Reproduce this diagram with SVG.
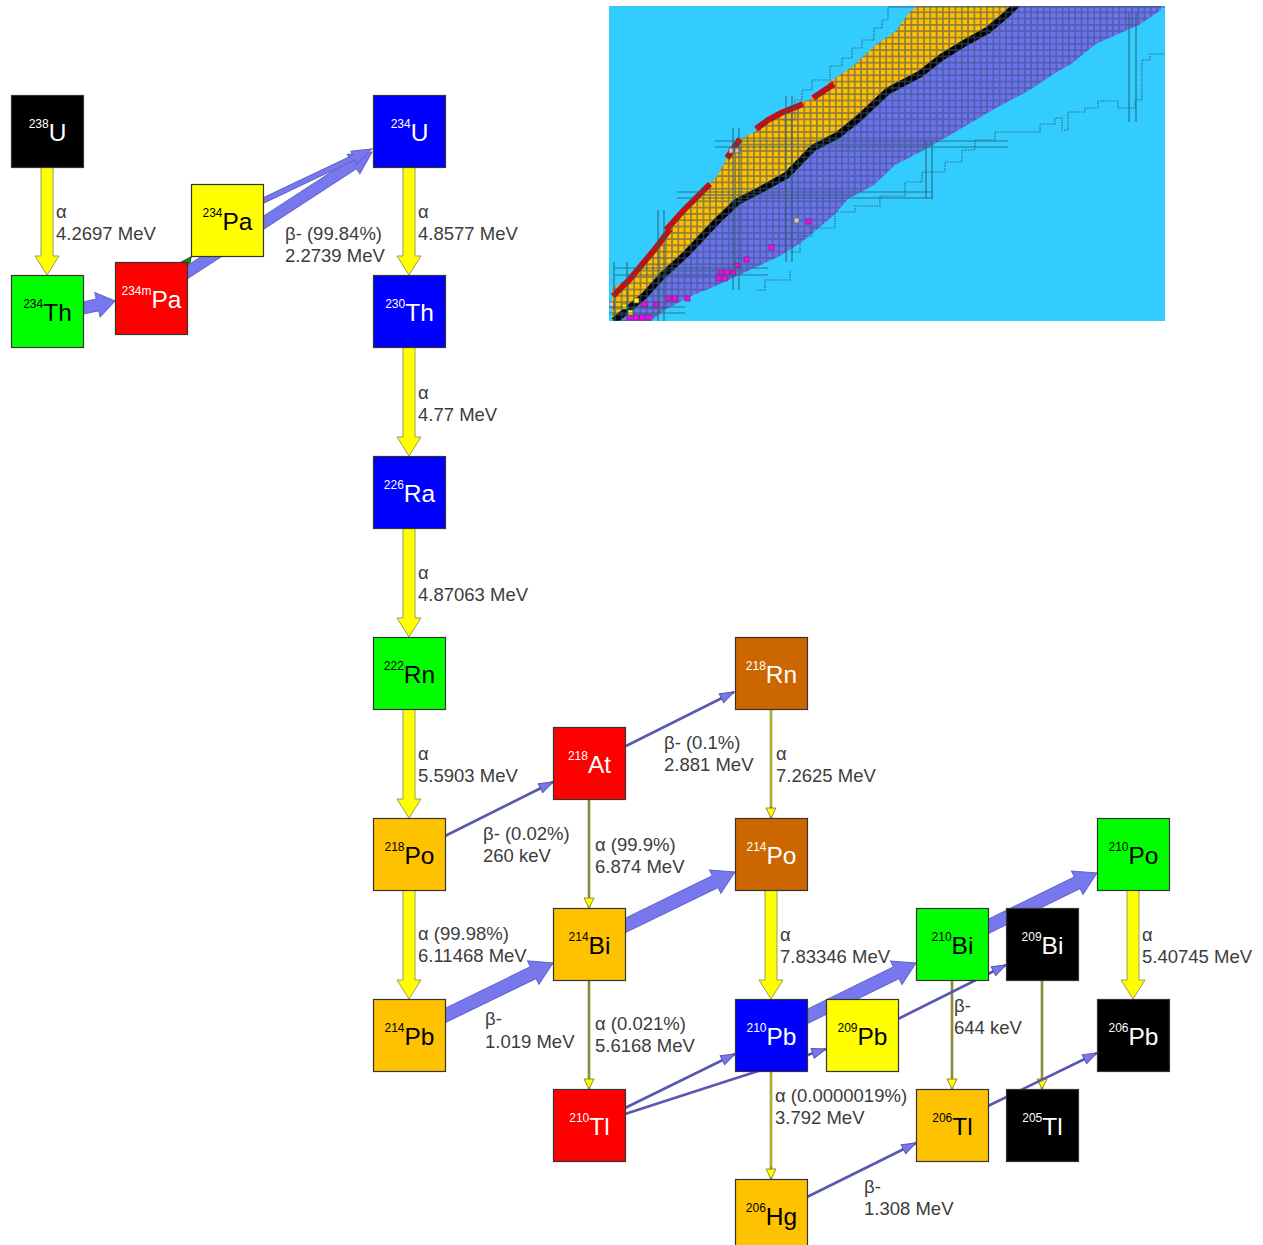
<svg xmlns="http://www.w3.org/2000/svg" width="1263" height="1245" viewBox="0 0 1263 1245">
<style>
  .box{stroke:#333;stroke-width:1.2}
  .nt{font-family:"Liberation Sans",Arial,sans-serif;text-anchor:middle}
  .w{fill:#fff}
  .b{fill:#000}
  .sup{font-size:12px}
  .sym{font-size:24.5px}
  .lbl{font-family:"Liberation Sans",Arial,sans-serif;font-size:18.5px;fill:#3c3c3c}
  .ya{fill:#ffff00;stroke:#9a9a60;stroke-width:1}
  .ba{fill:#7777ee;stroke:#6262c8;stroke-width:1}
  .thinA{stroke:#8a8a3c;stroke-width:2.6;fill:none}
  .thinA2{stroke:#cccc20;stroke-width:1.2;fill:none}
  .thinB{stroke:#5858b0;stroke-width:2.6;fill:none}
  .mg{stroke:#2d5d70;stroke-width:1.2;fill:none;opacity:0.8}
  .drip{stroke:#2d6070;stroke-width:1.2;fill:none;stroke-dasharray:1.5 1;opacity:0.8}
</style>
<defs>
  <marker id="mBeta" markerUnits="userSpaceOnUse" markerWidth="16" markerHeight="12" refX="15" refY="6" orient="auto" overflow="visible">
    <path d="M1,1 L15,6 L1,11 Z" fill="#7777ee" stroke="#5555aa" stroke-width="1"/>
  </marker>
  <marker id="mAlpha" markerUnits="userSpaceOnUse" markerWidth="12" markerHeight="12" refX="11" refY="6" orient="auto" overflow="visible">
    <path d="M1,1 L11,6 L1,11 Z" fill="#ffff00" stroke="#8a8a3c" stroke-width="1"/>
  </marker>
  <marker id="mIT" markerUnits="userSpaceOnUse" markerWidth="12" markerHeight="12" refX="11" refY="6" orient="auto" overflow="visible">
    <path d="M1,1 L11,6 L1,11 Z" fill="#1f8a1f" stroke="#116611" stroke-width="1"/>
  </marker>
  <pattern id="pPurple" x="609" y="6" width="6.3" height="6.3" patternUnits="userSpaceOnUse">
    <rect width="6.3" height="6.3" fill="#4a62a8"/><rect x="0.8" y="0.8" width="4.7" height="4.7" fill="#7070f0"/>
  </pattern>
  <pattern id="pOrange" x="609" y="6" width="6.3" height="6.3" patternUnits="userSpaceOnUse">
    <rect width="6.3" height="6.3" fill="#8a7a40"/><rect x="0.8" y="0.8" width="4.7" height="4.7" fill="#ffc000"/>
  </pattern>
  <pattern id="pRed" x="609" y="6" width="6.3" height="6.3" patternUnits="userSpaceOnUse">
    <rect width="6.3" height="6.3" fill="#703030"/><rect x="0.8" y="0.8" width="4.7" height="4.7" fill="#ee0000"/>
  </pattern>
  <pattern id="pBlack" x="609" y="6" width="6.3" height="6.3" patternUnits="userSpaceOnUse">
    <rect width="6.3" height="6.3" fill="#223344"/><rect x="0.8" y="0.8" width="4.7" height="4.7" fill="#000"/>
  </pattern>
  <clipPath id="insetClip"><rect x="609" y="6" width="556" height="315"/></clipPath>
</defs>

<!-- Inset: chart of nuclides -->
<g id="inset" clip-path="url(#insetClip)">
  <rect x="609" y="6" width="556" height="315" fill="#33ccff"/>
  <polygon fill="url(#pPurple)" points="612,321 612,290 630,276 655,246 680,212 716,178 737,141 762,128 780,111 813,98 831,81 852,67 877,44 895,32 909,13 917,6 1161,6 1161,10 1139,25 1118,34 1096,44 1071,64 1057,72 1028,91 996,108 974,121 945,138 920,152 895,165 874,185 848,199 834,215 802,242 780,256 752,269 716,286 691,296 665,310 651,321"/>
  <polygon fill="url(#pOrange)" points="612,321 612,290 630,276 655,246 680,212 716,178 737,141 762,128 780,111 813,98 831,81 852,67 877,44 895,32 909,13 917,6 1017,6 1006,15 988,30 963,44 942,57 920,74 888,91 859,118 838,135 813,148 787,175 762,189 737,202 716,222 687,253 662,276 644,296 619,316 616,321"/>
  <polyline fill="none" stroke="url(#pBlack)" stroke-width="7" points="614,321 644,296 662,276 687,253 716,222 737,202 762,189 787,175 813,148 838,135 859,118 888,91 920,74 942,57 963,44 988,30 1006,15 1017,4"/>
  <g fill="none" stroke="url(#pRed)" stroke-width="6">
    <polyline points="613,296 630,279 655,249 670,229"/>
    <polyline points="666,230 683,211 710,184"/>
    <polyline points="727,158 740,139"/>
    <polyline points="756,129 768,120 781,113 803,104"/>
    <polyline points="813,98 834,84"/>
  </g>
  <g fill="#ff00ff" stroke="#7a2a7a" stroke-width="0.8">
    <rect x="627" y="315" width="5" height="5"/><rect x="633.3" y="315" width="5" height="5"/><rect x="639.6" y="315" width="5" height="5"/><rect x="645.9" y="315" width="5" height="5"/>
    <rect x="666" y="296" width="5" height="5"/><rect x="672.3" y="296" width="5" height="5"/><rect x="685" y="296" width="5" height="5"/>
    <rect x="642" y="302" width="5" height="5"/><rect x="654" y="302" width="5" height="5"/>
    <rect x="718" y="270" width="5" height="5"/><rect x="724.3" y="270" width="5" height="5"/><rect x="730.6" y="270" width="5" height="5"/><rect x="716" y="276" width="5" height="5"/><rect x="722.3" y="276" width="5" height="5"/>
    <rect x="735" y="263" width="5" height="5"/><rect x="744" y="257" width="5" height="5"/><rect x="769" y="245" width="5" height="5"/><rect x="806" y="219" width="5" height="5"/>
  </g>
  <g fill="#ffff00" stroke="#555" stroke-width="0.8">
    <rect x="622" y="304" width="5" height="5"/><rect x="634" y="298" width="5" height="5"/><rect x="628" y="310" width="5" height="5"/>
  </g>
  <g fill="#c8c8c8" stroke="#666" stroke-width="0.8">
    <rect x="729" y="148" width="5" height="5"/><rect x="735" y="148" width="5" height="5"/><rect x="794" y="218" width="5" height="5"/><rect x="609" y="302" width="5" height="5"/>
  </g>
  <g class="mg">
    <line x1="715" y1="141" x2="1008" y2="141"/><line x1="715" y1="147" x2="1008" y2="147"/>
    <line x1="677" y1="192" x2="933" y2="192"/><line x1="677" y1="198" x2="933" y2="198"/>
    <line x1="926" y1="141" x2="926" y2="199"/><line x1="932" y1="141" x2="932" y2="199"/>
    <line x1="786" y1="96" x2="786" y2="262"/><line x1="792" y1="96" x2="792" y2="262"/>
    <line x1="733" y1="128" x2="733" y2="290"/><line x1="739" y1="128" x2="739" y2="290"/>
    <line x1="615" y1="268" x2="768" y2="268"/><line x1="615" y1="275" x2="768" y2="275"/>
    <line x1="658" y1="210" x2="658" y2="321"/><line x1="664" y1="210" x2="664" y2="321"/>
    <line x1="609" y1="307" x2="685" y2="307"/><line x1="609" y1="313" x2="685" y2="313"/>
    <line x1="614" y1="262" x2="614" y2="321"/><line x1="627" y1="262" x2="627" y2="321"/>
    <line x1="1129" y1="13" x2="1129" y2="122"/><line x1="1136" y1="13" x2="1136" y2="122"/>
    <line x1="888" y1="7" x2="1165" y2="7"/>
  </g>
  <polyline class="drip" points="790,252 800,252 800,236 812,236 812,228 835,228 835,212 855,212 855,206 880,206 880,196 905,196 905,182 922,182 922,172 945,172 945,162 962,162 962,150 975,150 975,140 995,140 995,132 1040,132 1040,124 1055,124 1055,118 1062,118 1062,130 1068,130 1068,112 1085,112 1085,108 1098,108 1098,101 1118,101 1118,108 1135,108 1135,100 1142,100 1142,60 1150,60 1150,54 1165,54"/>
  <polyline class="drip" points="782,120 795,120 795,100 802,100 802,90 812,90 812,80 830,80 830,66 842,66 842,58 852,58 852,48 862,48 862,40 874,40 874,28 882,28 882,20 888,20 888,8"/>
  <polyline class="drip" points="757,290 765,290 765,280 790,280 790,270"/>
</g>

<!-- Connectors -->
<g id="connectors">
  <!-- thick alpha -->
  <path class="ya" d="M41,167 V256 H35 L47,275 L59,256 H53 V167 Z"/>
  <path class="ya" d="M403,167 V256 H397 L409,275 L421,256 H415 V167 Z"/>
  <path class="ya" d="M403,347 V437 H397 L409,456 L421,437 H415 V347 Z"/>
  <path class="ya" d="M403,528 V618 H397 L409,637 L421,618 H415 V528 Z"/>
  <path class="ya" d="M403,709 V799 H397 L409,818 L421,799 H415 V709 Z"/>
  <path class="ya" d="M403,890 V980 H397 L409,999 L421,980 H415 V890 Z"/>
  <path class="ya" d="M765,890 V980 H759 L771,999 L783,980 H777 V890 Z"/>
  <path class="ya" d="M1127,890 V980 H1121 L1133,999 L1145,980 H1139 V890 Z"/>

  <!-- thin alpha -->
  <line class="thinA" x1="589" y1="799" x2="589" y2="908" marker-end="url(#mAlpha)"/>
  <line class="thinA" x1="771" y1="709" x2="771" y2="818" marker-end="url(#mAlpha)"/>
  <line class="thinA2" x1="771" y1="709" x2="771" y2="806"/>
  <line class="thinA" x1="589" y1="980" x2="589" y2="1089" marker-end="url(#mAlpha)"/>
  <line class="thinA" x1="771" y1="1071" x2="771" y2="1179" marker-end="url(#mAlpha)"/>
  <line class="thinA2" x1="771" y1="1071" x2="771" y2="1167"/>
  <line class="thinA" x1="952" y1="980" x2="952" y2="1089" marker-end="url(#mAlpha)"/>
  <line class="thinA" x1="1042" y1="980" x2="1042" y2="1089" marker-end="url(#mAlpha)"/>

  <!-- isomeric transition -->
  <line x1="160" y1="300" x2="191" y2="257" stroke="#1f8a1f" stroke-width="2" marker-end="url(#mIT)"/>

  <!-- thick beta -->
  <path class="ba" transform="translate(78 309) rotate(-12.2)" d="M0,-6 L19.9,-6 L19.9,-12.5 L37.9,0 L19.9,12.5 L19.9,6 L0,6 Z"/>
  <path class="ba" transform="translate(180 277) rotate(-33.06)" d="M0,-5.5 L207.1,-5.5 L207.1,-11.5 L229.1,0 L207.1,11.5 L207.1,5.5 L0,5.5 Z"/>
  <path class="ba" transform="translate(258 203) rotate(-25.35)" d="M0,-2.5 L106.1,-2.5 L106.1,-7 L126.1,0 L106.1,7 L106.1,2.5 L0,2.5 Z"/>
  <path class="ba" transform="translate(440 1018) rotate(-25.95)" d="M0,-6.5 L103.7,-6.5 L103.7,-13 L125.7,0 L103.7,13 L103.7,6.5 L0,6.5 Z"/>
  <path class="ba" transform="translate(620 928) rotate(-25.96)" d="M0,-6.5 L105.9,-6.5 L105.9,-13 L127.9,0 L105.9,13 L105.9,6.5 L0,6.5 Z"/>
  <path class="ba" transform="translate(802 1019) rotate(-26.16)" d="M0,-6.5 L105,-6.5 L105,-13 L127,0 L105,13 L105,6.5 L0,6.5 Z"/>
  <path class="ba" transform="translate(983 929) rotate(-26.16)" d="M0,-6.5 L105,-6.5 L105,-13 L127,0 L105,13 L105,6.5 L0,6.5 Z"/>

  <!-- thin beta -->
  <line class="thinB" x1="445" y1="836" x2="553" y2="782" marker-end="url(#mBeta)"/>
  <line class="thinB" x1="626" y1="746" x2="734" y2="692" marker-end="url(#mBeta)"/>
  <line class="thinB" x1="625" y1="1108" x2="735" y2="1054" marker-end="url(#mBeta)"/>
  <line class="thinB" x1="625" y1="1114" x2="826" y2="1049" marker-end="url(#mBeta)"/>
  <line class="thinB" x1="898" y1="1019" x2="1006" y2="965" marker-end="url(#mBeta)"/>
  <line class="thinB" x1="807" y1="1197" x2="916" y2="1143" marker-end="url(#mBeta)"/>
  <line class="thinB" x1="988" y1="1106" x2="1097" y2="1053" marker-end="url(#mBeta)"/>
</g>

<!-- Labels -->
<g id="labels" class="lbl">
  <text x="56" y="218">α</text><text x="56" y="240">4.2697 MeV</text>
  <text x="285" y="240">β- (99.84%)</text><text x="285" y="262">2.2739 MeV</text>
  <text x="418" y="218">α</text><text x="418" y="240">4.8577 MeV</text>
  <text x="418" y="399">α</text><text x="418" y="421">4.77 MeV</text>
  <text x="418" y="579">α</text><text x="418" y="601">4.87063 MeV</text>
  <text x="418" y="760">α</text><text x="418" y="782">5.5903 MeV</text>
  <text x="418" y="940">α (99.98%)</text><text x="418" y="962">6.11468 MeV</text>
  <text x="483" y="840">β- (0.02%)</text><text x="483" y="862">260 keV</text>
  <text x="595" y="851">α (99.9%)</text><text x="595" y="873">6.874 MeV</text>
  <text x="664" y="749">β- (0.1%)</text><text x="664" y="771">2.881 MeV</text>
  <text x="776" y="760">α</text><text x="776" y="782">7.2625 MeV</text>
  <text x="485" y="1025">β-</text><text x="485" y="1048">1.019 MeV</text>
  <text x="595" y="1030">α (0.021%)</text><text x="595" y="1052">5.6168 MeV</text>
  <text x="780" y="941">α</text><text x="780" y="963">7.83346 MeV</text>
  <text x="954" y="1012">β-</text><text x="954" y="1034">644 keV</text>
  <text x="1142" y="941">α</text><text x="1142" y="963">5.40745 MeV</text>
  <text x="775" y="1102">α (0.0000019%)</text><text x="775" y="1124">3.792 MeV</text>
  <text x="864" y="1193">β-</text><text x="864" y="1215">1.308 MeV</text>
</g>

<!-- Nodes -->
<g id="n-U238"><rect class="box" x="11.5" y="95.5" width="72" height="72" fill="#000000"/><text class="nt w" x="47.5" y="141"><tspan class="sup" dy="-13">238</tspan><tspan class="sym" dy="13">U</tspan></text></g>
<g id="n-Th234"><rect class="box" x="11.5" y="275.5" width="72" height="72" fill="#00ff00"/><text class="nt b" x="47.5" y="321"><tspan class="sup" dy="-13">234</tspan><tspan class="sym" dy="13">Th</tspan></text></g>
<g id="n-Pa234m"><rect class="box" x="115.5" y="262.5" width="72" height="72" fill="#ff0000"/><text class="nt w" x="151.5" y="308"><tspan class="sup" dy="-13">234m</tspan><tspan class="sym" dy="13">Pa</tspan></text></g>
<g id="n-Pa234"><rect class="box" x="191.5" y="184.5" width="72" height="72" fill="#ffff00"/><text class="nt b" x="227.5" y="230"><tspan class="sup" dy="-13">234</tspan><tspan class="sym" dy="13">Pa</tspan></text></g>
<g id="n-U234"><rect class="box" x="373.5" y="95.5" width="72" height="72" fill="#0000ff"/><text class="nt w" x="409.5" y="141"><tspan class="sup" dy="-13">234</tspan><tspan class="sym" dy="13">U</tspan></text></g>
<g id="n-Th230"><rect class="box" x="373.5" y="275.5" width="72" height="72" fill="#0000ff"/><text class="nt w" x="409.5" y="321"><tspan class="sup" dy="-13">230</tspan><tspan class="sym" dy="13">Th</tspan></text></g>
<g id="n-Ra226"><rect class="box" x="373.5" y="456.5" width="72" height="72" fill="#0000ff"/><text class="nt w" x="409.5" y="502"><tspan class="sup" dy="-13">226</tspan><tspan class="sym" dy="13">Ra</tspan></text></g>
<g id="n-Rn222"><rect class="box" x="373.5" y="637.5" width="72" height="72" fill="#00ff00"/><text class="nt b" x="409.5" y="683"><tspan class="sup" dy="-13">222</tspan><tspan class="sym" dy="13">Rn</tspan></text></g>
<g id="n-Po218"><rect class="box" x="373.5" y="818.5" width="72" height="72" fill="#ffc200"/><text class="nt b" x="409.5" y="864"><tspan class="sup" dy="-13">218</tspan><tspan class="sym" dy="13">Po</tspan></text></g>
<g id="n-Pb214"><rect class="box" x="373.5" y="999.5" width="72" height="72" fill="#ffc200"/><text class="nt b" x="409.5" y="1045"><tspan class="sup" dy="-13">214</tspan><tspan class="sym" dy="13">Pb</tspan></text></g>
<g id="n-At218"><rect class="box" x="553.5" y="727.5" width="72" height="72" fill="#ff0000"/><text class="nt w" x="589.5" y="773"><tspan class="sup" dy="-13">218</tspan><tspan class="sym" dy="13">At</tspan></text></g>
<g id="n-Bi214"><rect class="box" x="553.5" y="908.5" width="72" height="72" fill="#ffc200"/><text class="nt b" x="589.5" y="954"><tspan class="sup" dy="-13">214</tspan><tspan class="sym" dy="13">Bi</tspan></text></g>
<g id="n-Tl210"><rect class="box" x="553.5" y="1089.5" width="72" height="72" fill="#ff0000"/><text class="nt w" x="589.5" y="1135"><tspan class="sup" dy="-13">210</tspan><tspan class="sym" dy="13">Tl</tspan></text></g>
<g id="n-Rn218"><rect class="box" x="735.5" y="637.5" width="72" height="72" fill="#cc6600"/><text class="nt w" x="771.5" y="683"><tspan class="sup" dy="-13">218</tspan><tspan class="sym" dy="13">Rn</tspan></text></g>
<g id="n-Po214"><rect class="box" x="735.5" y="818.5" width="72" height="72" fill="#cc6600"/><text class="nt w" x="771.5" y="864"><tspan class="sup" dy="-13">214</tspan><tspan class="sym" dy="13">Po</tspan></text></g>
<g id="n-Pb210"><rect class="box" x="735.5" y="999.5" width="72" height="72" fill="#0000ff"/><text class="nt w" x="771.5" y="1045"><tspan class="sup" dy="-13">210</tspan><tspan class="sym" dy="13">Pb</tspan></text></g>
<g id="n-Hg206"><rect class="box" x="735.5" y="1179.5" width="72" height="72" fill="#ffc200"/><text class="nt b" x="771.5" y="1225"><tspan class="sup" dy="-13">206</tspan><tspan class="sym" dy="13">Hg</tspan></text></g>
<g id="n-Pb209"><rect class="box" x="826.5" y="999.5" width="72" height="72" fill="#ffff00"/><text class="nt b" x="862.5" y="1045"><tspan class="sup" dy="-13">209</tspan><tspan class="sym" dy="13">Pb</tspan></text></g>
<g id="n-Bi210"><rect class="box" x="916.5" y="908.5" width="72" height="72" fill="#00ff00"/><text class="nt b" x="952.5" y="954"><tspan class="sup" dy="-13">210</tspan><tspan class="sym" dy="13">Bi</tspan></text></g>
<g id="n-Tl206"><rect class="box" x="916.5" y="1089.5" width="72" height="72" fill="#ffc200"/><text class="nt b" x="952.5" y="1135"><tspan class="sup" dy="-13">206</tspan><tspan class="sym" dy="13">Tl</tspan></text></g>
<g id="n-Bi209"><rect class="box" x="1006.5" y="908.5" width="72" height="72" fill="#000000"/><text class="nt w" x="1042.5" y="954"><tspan class="sup" dy="-13">209</tspan><tspan class="sym" dy="13">Bi</tspan></text></g>
<g id="n-Tl205"><rect class="box" x="1006.5" y="1089.5" width="72" height="72" fill="#000000"/><text class="nt w" x="1042.5" y="1135"><tspan class="sup" dy="-13">205</tspan><tspan class="sym" dy="13">Tl</tspan></text></g>
<g id="n-Po210"><rect class="box" x="1097.5" y="818.5" width="72" height="72" fill="#00ff00"/><text class="nt b" x="1133.5" y="864"><tspan class="sup" dy="-13">210</tspan><tspan class="sym" dy="13">Po</tspan></text></g>
<g id="n-Pb206"><rect class="box" x="1097.5" y="999.5" width="72" height="72" fill="#000000"/><text class="nt w" x="1133.5" y="1045"><tspan class="sup" dy="-13">206</tspan><tspan class="sym" dy="13">Pb</tspan></text></g>
</svg>
